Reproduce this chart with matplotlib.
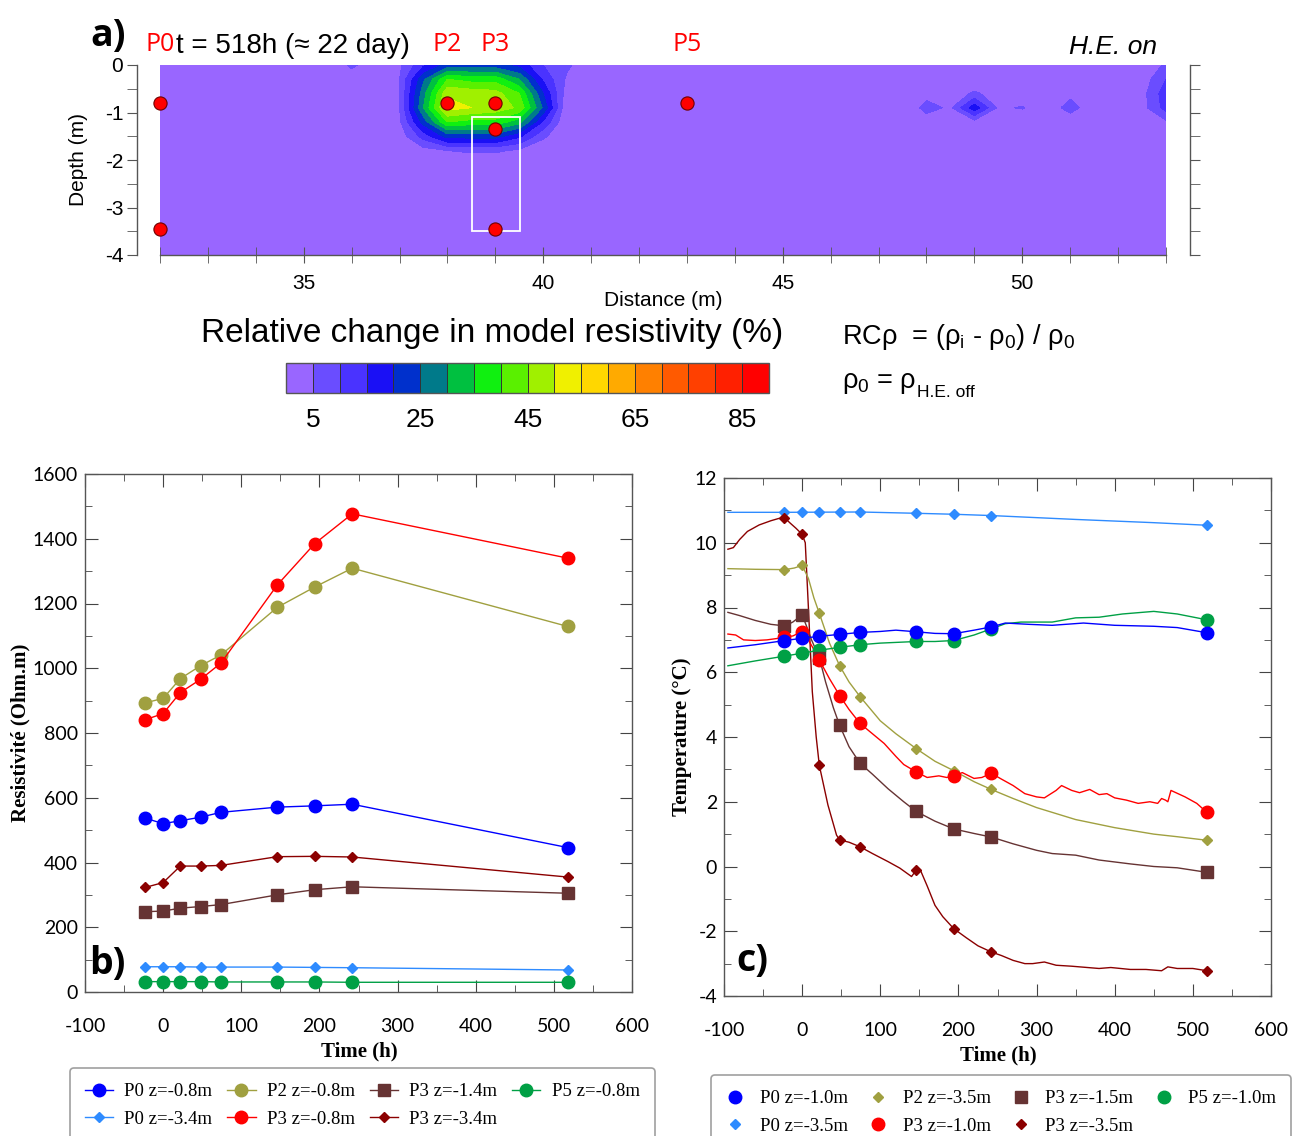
import numpy as np
import matplotlib
matplotlib.use('Agg')
import matplotlib.pyplot as plt
from matplotlib.ticker import MultipleLocator, FixedLocator
from matplotlib.patches import Rectangle

W, H = 1299, 1136

# ---------------- panel a data ----------------
grid_x = np.arange(32.0, 53.01, 0.5)
grid_z = np.array([0.0, -0.3, -0.6, -0.9, -1.2, -1.5, -1.8, -2.1, -4.0])
hot_x0 = 36.0   # columns 36.0 ... 41.0
hot_values = [
    [6, 2, 4, 14, 22, 22, 22, 18, 10, 6, 1],
    [2, 2, 5, 24, 40, 38, 38, 30, 14, 4, 0],
    [1, 2, 5, 28, 49, 48, 47, 40, 20, 2, 0],
    [1, 2, 5, 30, 52, 50, 48, 44, 24, 0, 0],
    [0, 1, 4, 22, 40, 38, 38, 32, 14, 0, 0],
    [0, 0, 2, 12, 22, 22, 22, 16, 6, 0, 0],
    [0, 0, 0, 3, 5, 6, 6, 4, 1, 0, 0],
]
east_x0 = 47.5  # columns 47.5 ... 53.0
east_values = [
    [0, 0, 0, 0, 0, 0, 0, 0, 0, 0, 0, 6],
    [0, 0, 0, 0, 0, 0, 0, 0, 0, 0, 2, 10],
    [0, 3, 1, 6, 2, 0, 0, 3, 0, 0, 3, 13],
    [0, 7, 4, 18, 4, 5.5, 0, 8, 0, 0, 3, 12],
    [0, 2, 1, 3, 1, 0, 0, 0, 0, 0, 0, 4],
]
levels = np.arange(0, 91, 5)
cbar_colors = ['#9966FF', '#6A4DFF', '#4A33FF', '#1A10F5', '#0030CC', '#007A8A',
               '#00C040', '#10F010', '#5AF000', '#A0F000', '#F0F000', '#FFD700',
               '#FFAA00', '#FF8000', '#FF5A00', '#FF4000', '#FF2000', '#FF0000']
cbar_ticks = [5, 25, 45, 65, 85]
probe_x = [32, 32, 38, 39, 39, 39, 43]
probe_z = [-0.8, -3.45, -0.8, -0.8, -1.35, -3.45, -0.8]
probe_names = ['P0', 'P2', 'P3', 'P5']
probe_name_x = [32, 38, 39, 43]
box_x = [38.52, 39.52]
box_z = [-3.5, -1.1]

# ---------------- panel b data ----------------
tb = [-23, 0, 22, 48, 74, 146, 194, 242, 518]
b_P0_08 = [537, 520, 529, 540, 555, 571, 575, 580, 446]
b_P0_34 = [78, 78, 78, 77, 77, 77, 76, 75, 68]
b_P2_08 = [893, 907, 968, 1008, 1041, 1188, 1251, 1309, 1129]
b_P3_08 = [841, 860, 925, 966, 1016, 1257, 1385, 1477, 1340]
b_P3_14 = [248, 250, 259, 264, 270, 300, 316, 325, 305]
b_P3_34 = [323, 338, 389, 389, 391, 418, 419, 417, 355]
b_P5_08 = [32, 32, 32, 32, 31, 31, 31, 30, 30]

# ---------------- panel c data ----------------
tc = [-23, 0, 22, 48, 74, 146, 194, 242, 518]
c_P0_10 = [6.98, 7.05, 7.11, 7.17, 7.23, 7.25, 7.19, 7.40, 7.22]
c_P0_35 = [10.94, 10.95, 10.95, 10.95, 10.95, 10.91, 10.88, 10.84, 10.54]
c_P2_35 = [9.17, 9.30, 7.82, 6.20, 5.25, 3.64, 2.96, 2.38, 0.81]
c_P3_10 = [7.10, 7.25, 6.38, 5.28, 4.42, 2.92, 2.80, 2.88, 1.67]
c_P3_15 = [7.43, 7.77, 6.45, 4.36, 3.19, 1.70, 1.16, 0.91, -0.18]
c_P3_35 = [10.76, 10.26, 3.12, 0.82, 0.61, -0.11, -1.92, -2.64, -3.22]
c_P5_10 = [6.50, 6.59, 6.68, 6.77, 6.85, 6.95, 6.98, 7.34, 7.62]

# continuous logger curves
cl_P0_10_t = [-95, -60, -22, 0, 22, 48, 74, 100, 120, 146, 170, 194, 220, 242, 260, 290, 320, 360, 400, 450, 480, 518]
cl_P0_10_v = [6.75, 6.85, 6.98, 7.05, 7.11, 7.17, 7.23, 7.26, 7.30, 7.25, 7.20, 7.19, 7.30, 7.40, 7.52, 7.48, 7.45, 7.52, 7.45, 7.42, 7.38, 7.22]
cl_P0_35_t = [-95, -22, 74, 146, 194, 242, 350, 450, 518]
cl_P0_35_v = [10.94, 10.94, 10.95, 10.91, 10.88, 10.84, 10.72, 10.62, 10.54]
cl_P2_35_t = [-95, -60, -22, -10, 0, 8, 15, 22, 35, 48, 60, 74, 100, 120, 146, 170, 194, 220, 242, 270, 300, 350, 400, 450, 480, 518]
cl_P2_35_v = [9.20, 9.18, 9.17, 9.22, 9.30, 8.90, 8.30, 7.82, 6.90, 6.20, 5.70, 5.25, 4.50, 4.10, 3.64, 3.25, 2.96, 2.62, 2.38, 2.10, 1.82, 1.45, 1.20, 1.00, 0.92, 0.81]
cl_P3_10_t = [-95, -85, -75, -60, -45, -30, -22, -12, -5, 0, 8, 15, 22, 35, 48, 60, 74, 90, 105, 120, 130, 146, 160, 175, 185, 194, 205, 220, 230, 242,
              255, 270, 285, 300, 310, 325, 332, 345, 355, 368, 380, 390, 400, 415, 430, 445, 455, 460, 465, 468, 472, 490, 505, 518]
cl_P3_10_v = [7.18, 7.15, 7.00, 6.98, 7.00, 7.05, 7.10, 7.12, 7.20, 7.25, 7.00, 6.70, 6.38, 5.80, 5.28, 4.85, 4.42, 4.10, 3.80, 3.40, 3.15, 2.92, 2.75, 2.80, 2.75, 2.80, 2.90, 2.72, 2.75, 2.88,
              2.70, 2.50, 2.25, 2.15, 2.12, 2.35, 2.50, 2.35, 2.28, 2.38, 2.22, 2.25, 2.12, 2.05, 1.95, 2.00, 1.95, 2.10, 2.05, 2.00, 2.35, 2.15, 1.95, 1.67]
cl_P3_15_t = [-95, -80, -60, -40, -22, -12, 0, 6, 12, 22, 30, 40, 48, 60, 74, 90, 110, 130, 146, 170, 194, 220, 242, 270, 300, 320, 350, 380, 420, 450, 480, 518]
cl_P3_15_v = [7.85, 7.75, 7.60, 7.48, 7.43, 7.55, 7.77, 7.40, 7.00, 6.45, 5.70, 4.90, 4.36, 3.70, 3.19, 2.85, 2.40, 2.00, 1.70, 1.40, 1.16, 1.02, 0.91, 0.70, 0.50, 0.40, 0.35, 0.20, 0.08, 0.00, -0.04, -0.18]
cl_P3_35_t = [-95, -88, -80, -70, -55, -40, -30, -22, -15, -8, 0, 4, 8, 13, 18, 22, 33, 44, 48, 60, 74, 90, 110, 125, 140, 146, 152, 160, 170, 180, 194,
              210, 225, 242, 255, 270, 285, 295, 310, 325, 345, 365, 380, 395, 420, 440, 460, 468, 480, 500, 518]
cl_P3_35_v = [9.80, 9.85, 10.10, 10.35, 10.55, 10.68, 10.75, 10.76, 10.60, 10.45, 10.26, 10.00, 8.00, 5.40, 4.00, 3.12, 1.90, 0.97, 0.82, 0.75, 0.61, 0.40, 0.15, -0.05, -0.31, -0.11, -0.15, -0.60, -1.20, -1.55, -1.92,
              -2.20, -2.45, -2.64, -2.75, -2.90, -3.00, -3.00, -2.95, -3.05, -3.08, -3.12, -3.15, -3.12, -3.18, -3.18, -3.22, -3.10, -3.15, -3.15, -3.22]
cl_P5_10_t = [-95, -60, -22, 0, 22, 48, 74, 100, 146, 170, 194, 220, 242, 260, 280, 320, 350, 380, 410, 450, 480, 518]
cl_P5_10_v = [6.20, 6.35, 6.50, 6.59, 6.68, 6.77, 6.85, 6.90, 6.95, 6.95, 6.98, 7.15, 7.34, 7.50, 7.55, 7.55, 7.68, 7.70, 7.80, 7.88, 7.80, 7.62]

# colours
C_BLUE = '#0000FF'
C_LBLUE = '#2E8BFF'
C_OLIVE = '#A0A040'
C_RED = '#FF0000'
C_BROWN = '#663333'
C_DRED = '#8B0000'
C_GREEN = '#00A045'

plt.rcParams['font.family'] = ['Liberation Sans', 'DejaVu Sans']
plt.rcParams['axes.unicode_minus'] = False


def fx(x):
    return x / W


def fy(y):
    return 1 - y / H


fig = plt.figure(figsize=(W / 100, H / 100), dpi=100)

# ================= panel a =================
field = np.zeros((len(grid_z), len(grid_x)))
hv = np.array(hot_values, dtype=float)
i0 = int(round((hot_x0 - grid_x[0]) / 0.5))
field[:hv.shape[0], i0:i0 + hv.shape[1]] = hv
ev = np.array(east_values, dtype=float)
j0 = int(round((east_x0 - grid_x[0]) / 0.5))
field[:ev.shape[0], j0:j0 + ev.shape[1]] = ev

axa = fig.add_axes([fx(160), fy(255), fx(1006), 190 / H])
cf = axa.contourf(grid_x, grid_z, field, levels=levels, colors=cbar_colors)
axa.set_xlim(32, 53)
axa.set_ylim(-4, 0)
axa.plot(probe_x, probe_z, 'o', ms=9.5, mfc='red', mec='#700000', mew=0.8, zorder=5, clip_on=False)
axa.add_patch(Rectangle((box_x[0], box_z[0]), box_x[1] - box_x[0], box_z[1] - box_z[0],
                        fill=False, ec='white', lw=1.3, zorder=4))
axa.spines['top'].set_visible(False)
axa.spines['left'].set_position(('outward', 16.5))
axa.spines['right'].set_position(('outward', 17.3))
for s in ['left', 'right', 'bottom']:
    axa.spines[s].set_color('#555555')
    axa.spines[s].set_linewidth(1.0)
axa.xaxis.set_major_locator(FixedLocator([35, 40, 45, 50]))
axa.xaxis.set_minor_locator(MultipleLocator(1))
axa.set_yticks([-4, -3, -2, -1, 0])
axa.yaxis.set_minor_locator(MultipleLocator(0.5))
axa.tick_params(axis='x', which='both', direction='inout', length=11, color='#555555',
                labelsize=15, pad=8)
axa.tick_params(axis='y', which='both', direction='out', length=7, color='#555555',
                labelsize=15, left=True, right=True, labelright=False, pad=3)
fig.text(fx(78), fy(160), 'Depth (m)', rotation=90, ha='center', va='center', fontsize=15)
fig.text(fx(663), fy(300), 'Distance (m)', ha='center', va='center', fontsize=15)

for name, xn in zip(probe_names, probe_name_x):
    axa.text(xn, 1.11, name, transform=axa.get_xaxis_transform(), ha='center', va='center',
             color='red', fontsize=18, family=['Open Sans', 'DejaVu Sans'])
axa.text(32.33, 1.10, 't = 518h (≈ 22 day)', transform=axa.get_xaxis_transform(), ha='left',
         va='center', fontsize=20)
fig.text(fx(1157), fy(47), 'H.E. on', ha='right', va='center', fontsize=19, style='italic')
fig.text(fx(90), fy(36), 'a)', ha='left', va='center', fontsize=27, fontweight='bold',
         family=['Open Sans', 'DejaVu Sans'])

# colour bar
cax = fig.add_axes([fx(286), fy(393), fx(483), 30 / H])
cb = fig.colorbar(cf, cax=cax, orientation='horizontal', ticks=cbar_ticks, drawedges=True)
cb.outline.set_edgecolor('#555555')
cb.outline.set_linewidth(1.0)
cb.dividers.set_color('#333333')
cb.dividers.set_linewidth(0.7)
cax.tick_params(length=0, labelsize=19, pad=11)
fig.text(fx(492), fy(333), 'Relative change in model resistivity (%)', ha='center', va='center',
         fontsize=24)
fig.text(fx(842), fy(337), r'RCρ  = (ρ$_\mathregular{i}$ - ρ$_\mathregular{0}$) / ρ$_\mathregular{0}$',
         ha='left', va='center', fontsize=19.5)
base = fig.text(fx(842), fy(388), r'ρ$_\mathregular{0}$ = ρ', ha='left', va='baseline', fontsize=19.5)
renderer = fig.canvas.get_renderer()
bb = base.get_window_extent(renderer)
fig.text((bb.x1 + 1) / W, fy(397), 'H.E. off', ha='left', va='baseline', fontsize=12.5)


def style_time_axis(ax):
    ax.set_xlim(-100, 600)
    ax.xaxis.set_major_locator(MultipleLocator(100))
    ax.xaxis.set_minor_locator(MultipleLocator(50))
    ax.tick_params(which='both', direction='in', top=True, right=True, color='#444444')
    ax.tick_params(which='major', length=9, labelsize=14)
    ax.tick_params(axis='x', which='major', pad=19)
    ax.tick_params(axis='y', which='major', pad=5)
    ax.tick_params(which='minor', length=5)
    for s in ax.spines.values():
        s.set_color('#555555')
        s.set_linewidth(1.0)
    for lab in ax.get_xticklabels() + ax.get_yticklabels():
        lab.set_family(['Lato', 'DejaVu Sans'])


# ================= panel b =================
axb = fig.add_axes([fx(85), fy(992), fx(547), 518 / H])
lw = 1.0
hb = []
hb.append(axb.plot(tb, b_P0_08, '-o', color=C_BLUE, lw=lw, ms=9, label='P0 z=-0.8m')[0])
hb.append(axb.plot(tb, b_P0_34, '-D', color=C_LBLUE, lw=lw, ms=5.5, label='P0 z=-3.4m')[0])
hb.append(axb.plot(tb, b_P2_08, '-o', color=C_OLIVE, lw=lw, ms=9, label='P2 z=-0.8m')[0])
hb.append(axb.plot(tb, b_P3_08, '-o', color=C_RED, lw=lw, ms=9, label='P3 z=-0.8m')[0])
hb.append(axb.plot(tb, b_P3_14, '-s', color=C_BROWN, lw=lw, ms=8.5, label='P3 z=-1.4m')[0])
hb.append(axb.plot(tb, b_P3_34, '-D', color=C_DRED, lw=lw, ms=5.5, label='P3 z=-3.4m')[0])
hb.append(axb.plot(tb, b_P5_08, '-o', color=C_GREEN, lw=lw, ms=9, label='P5 z=-0.8m')[0])
axb.set_ylim(0, 1600)
axb.yaxis.set_major_locator(MultipleLocator(200))
axb.yaxis.set_minor_locator(MultipleLocator(100))
style_time_axis(axb)
fig.text(fx(20), fy(733), 'Resistivité (Ohm.m)', rotation=90, ha='center', va='center',
         fontsize=15, fontweight='bold', family=['Liberation Serif'])
fig.text(fx(359), fy(1051), 'Time (h)', ha='center', va='center',
         fontsize=15, fontweight='bold', family=['Liberation Serif'])
fig.text(fx(89), fy(964), 'b)', ha='left', va='center', fontsize=27, fontweight='bold',
         family=['Open Sans', 'DejaVu Sans'])

# ================= panel c =================
axc = fig.add_axes([fx(724), fy(996), fx(547), 518 / H])
axc.plot(cl_P0_35_t, cl_P0_35_v, '-', color=C_LBLUE, lw=lw)
axc.plot(cl_P3_35_t, cl_P3_35_v, '-', color=C_DRED, lw=lw)
axc.plot(cl_P2_35_t, cl_P2_35_v, '-', color=C_OLIVE, lw=lw)
axc.plot(cl_P3_15_t, cl_P3_15_v, '-', color=C_BROWN, lw=lw)
axc.plot(cl_P3_10_t, cl_P3_10_v, '-', color=C_RED, lw=lw)
axc.plot(cl_P5_10_t, cl_P5_10_v, '-', color=C_GREEN, lw=lw)
axc.plot(cl_P0_10_t, cl_P0_10_v, '-', color=C_BLUE, lw=lw)
hc = []
hc.append(axc.plot(tc, c_P0_10, 'o', color=C_BLUE, ms=9, label='P0 z=-1.0m', zorder=4)[0])
hc.append(axc.plot(tc, c_P0_35, 'D', color=C_LBLUE, ms=5.5, label='P0 z=-3.5m')[0])
hc.append(axc.plot(tc, c_P2_35, 'D', color=C_OLIVE, ms=5.5, label='P2 z=-3.5m')[0])
hc.append(axc.plot(tc, c_P3_10, 'o', color=C_RED, ms=9, label='P3 z=-1.0m', zorder=3)[0])
hc.append(axc.plot(tc, c_P3_15, 's', color=C_BROWN, ms=8.5, label='P3 z=-1.5m', zorder=2.5)[0])
hc.append(axc.plot(tc, c_P3_35, 'D', color=C_DRED, ms=5.5, label='P3 z=-3.5m')[0])
hc.append(axc.plot(tc, c_P5_10, 'o', color=C_GREEN, ms=9, label='P5 z=-1.0m')[0])
axc.set_ylim(-4, 12)
axc.yaxis.set_major_locator(MultipleLocator(2))
axc.yaxis.set_minor_locator(MultipleLocator(1))
style_time_axis(axc)
fig.text(fx(682), fy(737), 'Temperature (°C)', rotation=90, ha='center', va='center',
         fontsize=15, fontweight='bold', family=['Liberation Serif'])
fig.text(fx(998), fy(1055), 'Time (h)', ha='center', va='center',
         fontsize=15, fontweight='bold', family=['Liberation Serif'])
fig.text(fx(736), fy(961), 'c)', ha='left', va='center', fontsize=27, fontweight='bold',
         family=['Open Sans', 'DejaVu Sans'])

# legends
leg_kw = dict(ncol=4, frameon=True, fancybox=True, prop={'family': 'Liberation Serif', 'size': 13.5},
              borderpad=0.8, labelspacing=0.55, borderaxespad=0.0, loc='upper left')
lb = fig.legend(handles=hb, bbox_to_anchor=(fx(70), fy(1068)), handlelength=1.5,
                handletextpad=0.6, columnspacing=0.8, **leg_kw)
lc = fig.legend(handles=hc, bbox_to_anchor=(fx(711), fy(1075)), handlelength=1.0,
                handletextpad=0.8, columnspacing=1.12, **leg_kw)
for lg in (lb, lc):
    lg.get_frame().set_edgecolor('#888888')
    lg.get_frame().set_linewidth(1.2)

fig.savefig('out.png', dpi=100)
